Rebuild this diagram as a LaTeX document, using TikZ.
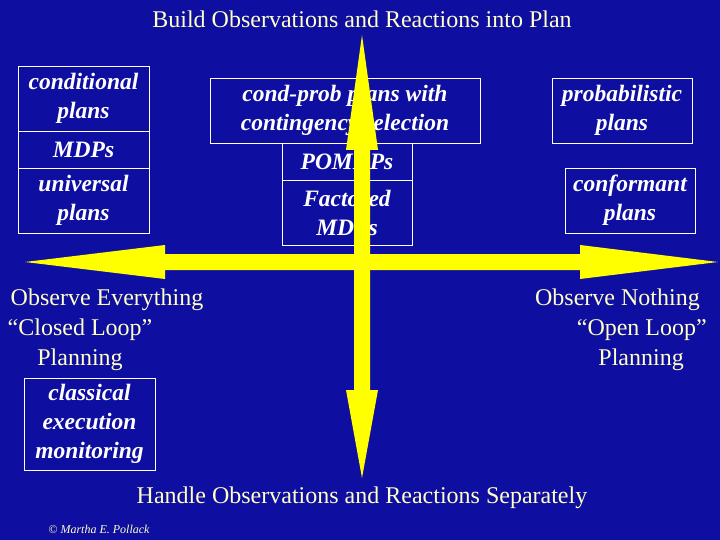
\documentclass[tikz,border=0pt]{standalone}
\usepackage{fontspec}
\setmainfont{Liberation Serif}
\definecolor{bg}{RGB}{14,14,160}
\definecolor{yel}{RGB}{255,255,0}
\definecolor{pale}{RGB}{255,255,200}
\begin{document}
\begin{tikzpicture}[x=1pt,y=-1pt,
  bx/.style={draw=white,line width=0.8pt,text=white,font=\fontsize{23.5}{29}\selectfont\bfseries\itshape,align=center,inner sep=0pt},
  lbl/.style={text=pale,font=\fontsize{24}{30}\selectfont,inner sep=0pt}]
\fill[bg] (0,0) rectangle (720,540);
\useasboundingbox (0,0) rectangle (720,540);
% boxes
\node[bx,minimum width=131,minimum height=65] (cp) at (83.5,98.5) {conditional\\plans};
\node[bx,minimum width=131,minimum height=37] (mdp) at (83.5,149.5) {MDPs};
\node[bx,minimum width=131,minimum height=65] (up) at (83.5,200.5) {universal\\plans};
\node[bx,minimum width=270,minimum height=65] (cpp) at (345,110.5) {cond-prob plans with\\contingency selection};
\node[bx,minimum width=130,minimum height=37] (pom) at (347,161.5) {POMDPs};
\node[bx,minimum width=130,minimum height=65] (fm) at (347,212.5) {Factored\\MDPs};
\node[bx,minimum width=140,minimum height=65] (pp) at (622,110.5) {probabilistic\\plans};
\node[bx,minimum width=130,minimum height=65] (cf) at (630,200.5) {conformant\\plans};
\node[bx,minimum width=131,minimum height=92] (cl) at (89.5,424) {classical\\execution\\monitoring};
% horizontal arrow
\fill[yel] (25,262) -- (165,245) -- (165,254) -- (580,254) -- (580,245) -- (718,262) -- (580,279) -- (580,270) -- (165,270) -- (165,279) -- cycle;
% vertical arrow
\fill[yel] (362,35) -- (378,150) -- (370,150) -- (370,390) -- (378,390) -- (362,478) -- (346,390) -- (354,390) -- (354,150) -- (346,150) -- cycle;
% labels
\node[lbl] (t) at (362,19) {Build Observations and Reactions into Plan};
\node[lbl] (b) at (362,498) {Handle Observations and Reactions Separately};
\node[lbl] (oe) at (107,300) {Observe Everything};
\node[lbl] (clo) at (80,330) {“Closed Loop”};
\node[lbl] (pl1) at (80,360) {Planning};
\node[lbl,anchor=east] (on) at (700,300) {Observe Nothing};
\node[lbl,anchor=east] (olo) at (707,330) {“Open Loop”};
\node[lbl,anchor=east] (pl2) at (684,360) {Planning};
\node[text=pale,font=\fontsize{12}{13}\selectfont\itshape,inner sep=0pt] (c) at (99,529) {© Martha E. Pollack};
\end{tikzpicture}
\end{document}
